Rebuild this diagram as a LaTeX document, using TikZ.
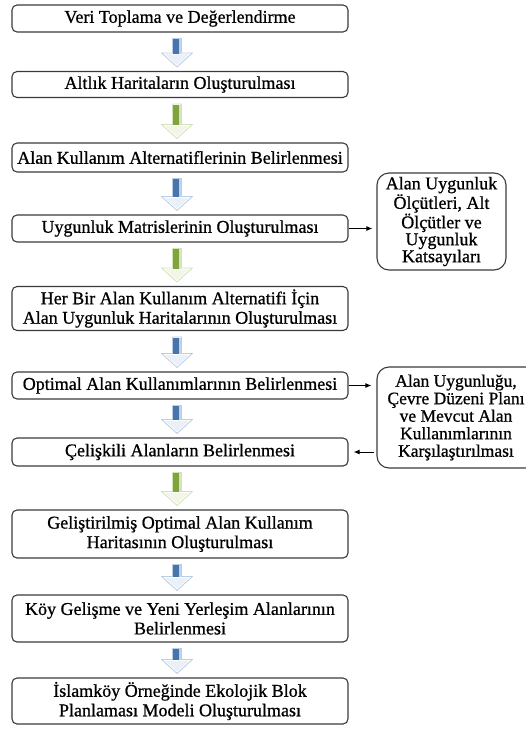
\documentclass[tikz,border=0pt]{standalone}
\usepackage{fontspec}
\setmainfont{Liberation Serif}[FakeBold=0.8]
\usetikzlibrary{calc,arrows.meta}
\definecolor{arrblue}{HTML}{4F81BD}
\definecolor{arrgreen}{HTML}{8DB646}
\definecolor{boxline}{HTML}{3A3A3A}
\tikzset{
  mainbox/.style={draw=boxline, line width=1.1pt, rounded corners=5pt, minimum width=336pt,
    align=center, font=\fontsize{18}{19.5}\selectfont, inner sep=0pt},
  sidebox/.style={draw=boxline, line width=1.1pt, rounded corners=12pt,
    align=center, inner sep=0pt},
  conn/.style={-{Latex[length=6pt,width=5pt]}, line width=1pt, black}
}
\newcommand\blockarr[3]{%
  \coordinate (AT) at ($(#1.south)+(-3,6)$);
  \coordinate (AB) at ($(#2.north)+(-3,-4)$);
  \coordinate (AH) at ($(AB)+(0,-14)$);
  \filldraw[fill=white, draw=#3!40, line width=0.8pt, line join=round]
    ($(AT)+(-4.5,0)$) -- ($(AT)+(4.5,0)$) -- ($(AH-|AT)+(4.5,0)$) -- ($(AH)+(15.5,0)$) -- (AB)
    -- ($(AH)+(-15.5,0)$) -- ($(AH-|AT)+(-4.5,0)$) -- cycle;
  \fill[#3!90!black] ($(AT)+(-4,0.5)$) rectangle ($(AH)+(1.5,1)$);
  \fill[#3!35] ($(AT)+(1.5,0.5)$) rectangle ($(AH)+(4,1)$);
  \fill[#3!12] ($(AH)+(-12,1.5)$) -- ($(AH)+(12,1.5)$) -- ($(AB)+(0,-2)$) -- cycle;
}
\begin{document}
\begin{tikzpicture}[x=1pt,y=-1pt]
\useasboundingbox (0,0) rectangle (526,729);
\clip (0,0) rectangle (526,729);
\node[mainbox, minimum height=27pt] (b1) at (180,18.5) {Veri Toplama ve Değerlendirme};
\node[mainbox, minimum height=26pt] (b2) at (180,84.5) {Altlık Haritaların Oluşturulması};
\node[mainbox, minimum height=29pt] (b3) at (180,157.5) {Alan Kullanım Alternatiflerinin Belirlenmesi};
\node[mainbox, minimum height=27pt] (b4) at (180,228.5) {Uygunluk Matrislerinin Oluşturulması};
\node[mainbox, minimum height=44pt] (b5) at (180,308.5) {Her Bir Alan Kullanım Alternatifi İçin\\Alan Uygunluk Haritalarının Oluşturulması};
\node[mainbox, minimum height=27pt] (b6) at (180,385.5) {Optimal Alan Kullanımlarının Belirlenmesi};
\node[mainbox, minimum height=28pt] (b7) at (180,452) {Çelişkili Alanların Belirlenmesi};
\node[mainbox, minimum height=48pt] (b8) at (180,534) {Geliştirilmiş Optimal Alan Kullanım\\Haritasının Oluşturulması};
\node[mainbox, minimum height=47pt] (b9) at (180,618.5) {Köy Gelişme ve Yeni Yerleşim Alanlarının\\Belirlenmesi};
\node[mainbox, minimum height=46pt] (b10) at (180,701) {İslamköy Örneğinde Ekolojik Blok\\Planlaması Modeli Oluşturulması};

\node[sidebox, minimum width=129pt, minimum height=97pt, font=\fontsize{18}{17}\selectfont] (s1) at (441.5,221.5)
  {Alan Uygunluk\\Ölçütleri, Alt\\Ölçütler ve\\Uygunluk\\Katsayıları};
\node[sidebox, minimum width=160pt, minimum height=101pt] (s2) at (457,417.5) {};
\node[align=center, inner sep=0pt, font=\fontsize{17.5}{17.5}\selectfont] (s2t) at (456,417.5)
  {Alan Uygunluğu,\\Çevre Düzeni Planı\\ve Mevcut Alan\\Kullanımlarının\\Karşılaştırılması};

\blockarr{b1}{b2}{arrblue}
\blockarr{b2}{b3}{arrgreen}
\blockarr{b3}{b4}{arrblue}
\blockarr{b4}{b5}{arrgreen}
\blockarr{b5}{b6}{arrblue}
\blockarr{b6}{b7}{arrblue}
\blockarr{b7}{b8}{arrgreen}
\blockarr{b8}{b9}{arrblue}
\blockarr{b9}{b10}{arrblue}

\draw[conn] (b4.east) -- ($(s1.west |- b4.east)+(-4,0)$);
\draw[conn] (b6.east) -- ($(s2.west |- b6.east)+(-5,0)$);
\draw[conn] ($(s2.west |- b7.east)+(-2,0)$) -- ($(b7.east)+(5,0)$);
\end{tikzpicture}
\end{document}
